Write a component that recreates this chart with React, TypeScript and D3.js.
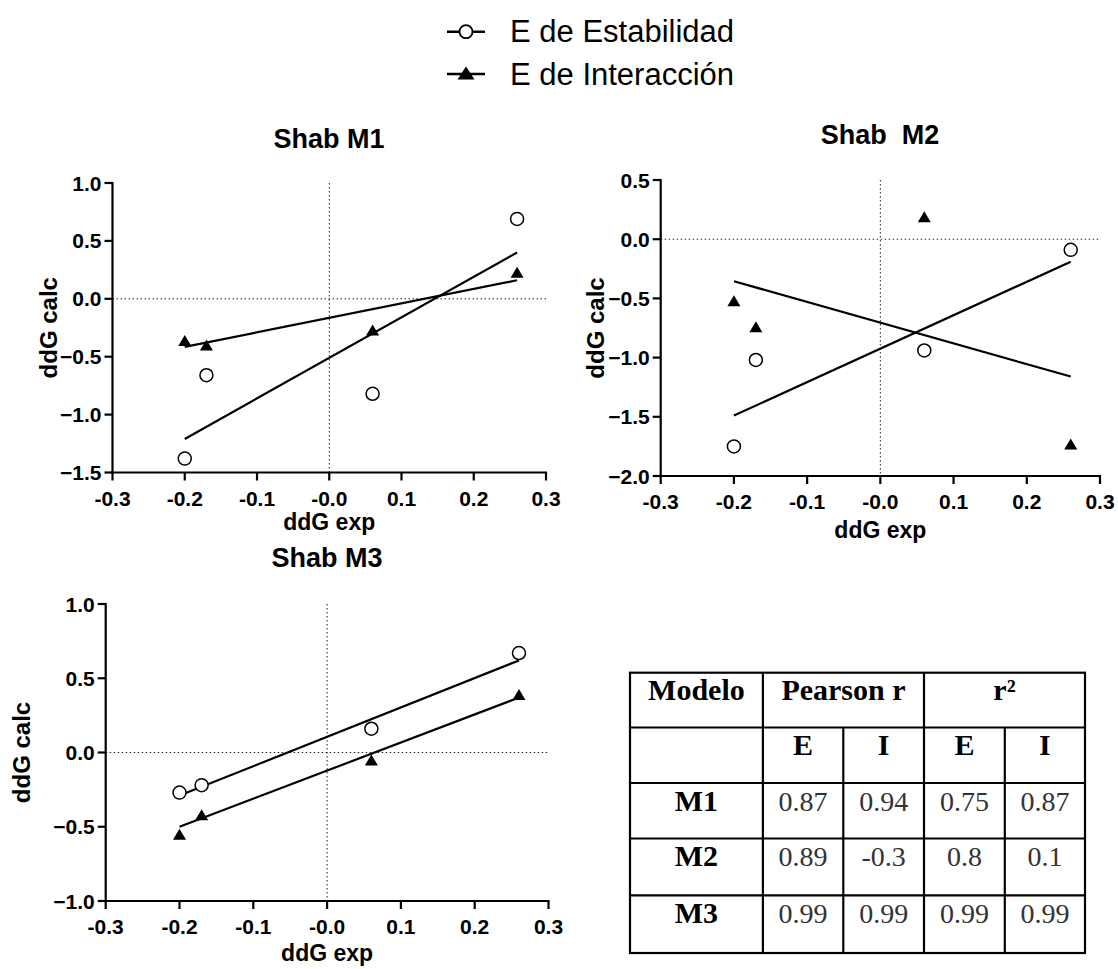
import React from "react";
import * as d3 from "d3";

// ---------- data ----------
const X_VALUES = [-0.2, -0.17, 0.06, 0.26];

const M1_STAB = [-1.38, -0.66, -0.82, 0.69];
const M1_INT = [-0.36, -0.4, -0.27, 0.23];
const M2_STAB = [-1.75, -1.02, -0.94, -0.09];
const M2_INT = [-0.52, -0.74, 0.19, -1.73];
const M3_STAB = [-0.27, -0.22, 0.16, 0.67];
const M3_INT = [-0.55, -0.42, -0.05, 0.39];

// fitted lines (value at x = -0.2 and x = 0.26)
const FIT_X = [-0.2, 0.26];
const M1_STAB_FIT = [-1.21, 0.4];
const M1_INT_FIT = [-0.415, 0.16];
const M2_STAB_FIT = [-1.49, -0.19];
const M2_INT_FIT = [-0.355, -1.16];
const M3_STAB_FIT = [-0.29, 0.62];
const M3_INT_FIT = [-0.5, 0.37];

const X_TICKS = [-0.3, -0.2, -0.1, 0, 0.1, 0.2, 0.3];
const X_TICK_LABELS = ["-0.3", "-0.2", "-0.1", "-0.0", "0.1", "0.2", "0.3"];
const M1_Y_TICKS = [1.0, 0.5, 0.0, -0.5, -1.0, -1.5];
const M2_Y_TICKS = [0.5, 0.0, -0.5, -1.0, -1.5, -2.0];
const M3_Y_TICKS = [1.0, 0.5, 0.0, -0.5, -1.0];

const LEGEND_LABELS = ["E de Estabilidad", "E de Interacción"];
const X_TITLE = "ddG exp";
const Y_TITLE = "ddG calc";

const TABLE_HEAD_1 = ["Modelo", "Pearson r", "r²"];
const TABLE_HEAD_2 = ["", "E", "I", "E", "I"];
const TABLE_MODELS = ["M1", "M2", "M3"];
const PEARSON_E = ["0.87", "0.89", "0.99"];
const PEARSON_I = ["0.94", "-0.3", "0.99"];
const R2_E = ["0.75", "0.8", "0.99"];
const R2_I = ["0.87", "0.1", "0.99"];

// ---------- layout ----------
const SANS = "'Liberation Sans', Arial, Helvetica, sans-serif";
const SERIF = "'Liberation Serif', 'Times New Roman', serif";

const PANELS = [
  {
    title: "Shab M1", stab: M1_STAB, inter: M1_INT, stabFit: M1_STAB_FIT, intFit: M1_INT_FIT,
    yTicks: M1_Y_TICKS, x0: 112.5, x1: 546, yTop: 183, yBot: 472.5,
    titleX: 329, titleY: 148, yTitleX: 57, xTitleY: 530,
  },
  {
    title: "Shab  M2", stab: M2_STAB, inter: M2_INT, stabFit: M2_STAB_FIT, intFit: M2_INT_FIT,
    yTicks: M2_Y_TICKS, x0: 660.7, x1: 1100, yTop: 180, yBot: 476,
    titleX: 880, titleY: 144, yTitleX: 604, xTitleY: 538,
  },
  {
    title: "Shab M3", stab: M3_STAB, inter: M3_INT, stabFit: M3_STAB_FIT, intFit: M3_INT_FIT,
    yTicks: M3_Y_TICKS, x0: 105.7, x1: 548.5, yTop: 604, yBot: 901,
    titleX: 327, titleY: 567, yTitleX: 30, xTitleY: 961,
  },
];

const triPath = (cx: number, cy: number, w: number, h: number) =>
  `M${cx - w / 2},${cy + h / 2}L${cx + w / 2},${cy + h / 2}L${cx},${cy - h / 2}Z`;

function Panel({ p }: { p: (typeof PANELS)[number] }) {
  const yMax = d3.max(p.yTicks) as number;
  const yMin = d3.min(p.yTicks) as number;
  const x = d3.scaleLinear().domain([-0.3, 0.3]).range([p.x0, p.x1]);
  const y = d3.scaleLinear().domain([yMin, yMax]).range([p.yBot, p.yTop]);
  const line = d3
    .line<[number, number]>()
    .x((d) => x(d[0]))
    .y((d) => y(d[1]));
  const cx = (p.x0 + p.x1) / 2;
  const cy = (p.yTop + p.yBot) / 2;
  return (
    <g>
      <text x={p.titleX} y={p.titleY} textAnchor="middle" fontFamily={SANS} fontWeight="bold" fontSize={27} style={{ whiteSpace: "pre" }}>
        {p.title}
      </text>
      {/* dotted zero lines */}
      <line x1={x(0)} x2={x(0)} y1={y(yMax)} y2={y(yMin)} stroke="#222" strokeWidth={1} strokeDasharray="1.5 2.5" />
      <line x1={x(-0.3)} x2={x(0.3)} y1={y(0)} y2={y(0)} stroke="#222" strokeWidth={1} strokeDasharray="1.5 2.5" />
      {/* axes */}
      <line x1={x(-0.3)} x2={x(-0.3)} y1={y(yMax) - 1} y2={y(yMin) + 1} stroke="#000" strokeWidth={2.2} />
      <line x1={x(-0.3) - 1} x2={x(0.3) + 1} y1={y(yMin)} y2={y(yMin)} stroke="#000" strokeWidth={2.2} />
      {p.yTicks.map((t) => (
        <g key={"y" + t}>
          <line x1={x(-0.3) - 8} x2={x(-0.3)} y1={y(t)} y2={y(t)} stroke="#000" strokeWidth={2.2} />
          <text x={x(-0.3) - 11} y={y(t)} dy="0.36em" textAnchor="end" fontFamily={SANS} fontWeight="bold" fontSize={21}>
            {d3.format(".1f")(t)}
          </text>
        </g>
      ))}
      {X_TICKS.map((t, i) => (
        <g key={"x" + i}>
          <line x1={x(t)} x2={x(t)} y1={y(yMin)} y2={y(yMin) + 8} stroke="#000" strokeWidth={2.2} />
          <text x={x(t)} y={y(yMin) + 33} textAnchor="middle" fontFamily={SANS} fontWeight="bold" fontSize={21}>
            {X_TICK_LABELS[i]}
          </text>
        </g>
      ))}
      <text x={cx} y={p.xTitleY} textAnchor="middle" fontFamily={SANS} fontWeight="bold" fontSize={23}>
        {X_TITLE}
      </text>
      <text transform={`translate(${p.yTitleX},${cy}) rotate(-90)`} textAnchor="middle" fontFamily={SANS} fontWeight="bold" fontSize={24}>
        {Y_TITLE}
      </text>
      {/* fit lines */}
      <path d={line(FIT_X.map((v, i) => [v, p.stabFit[i]]) as any) || ""} stroke="#000" strokeWidth={2.2} fill="none" />
      <path d={line(FIT_X.map((v, i) => [v, p.intFit[i]]) as any) || ""} stroke="#000" strokeWidth={2.2} fill="none" />
      {/* points */}
      {X_VALUES.map((v, i) => (
        <circle key={"c" + i} cx={x(v)} cy={y(p.stab[i])} r={6.5} fill="#fff" stroke="#000" strokeWidth={1.5} />
      ))}
      {X_VALUES.map((v, i) => (
        <path key={"t" + i} d={triPath(x(v), y(p.inter[i]), 13, 11)} fill="#000" />
      ))}
    </g>
  );
}

function Legend() {
  const rows = [31.7, 74];
  return (
    <g>
      {LEGEND_LABELS.map((lab, i) => (
        <g key={lab}>
          <line x1={447} x2={485} y1={rows[i]} y2={rows[i]} stroke="#000" strokeWidth={2.5} />
          {i === 0 ? (
            <circle cx={466} cy={rows[i]} r={6.5} fill="#fff" stroke="#000" strokeWidth={1.8} />
          ) : (
            <path d={triPath(466, rows[i] - 1, 17, 13)} fill="#000" />
          )}
          <text x={510} y={rows[i] + 10.5} fontFamily={SANS} fontSize={31} fill="#000">
            {lab}
          </text>
        </g>
      ))}
    </g>
  );
}

function Table() {
  const cols = [630, 762.9, 843.3, 924, 1004.8, 1085];
  const rows = [672.7, 727.5, 783, 838.5, 895.3, 953];
  const mid = (a: number, b: number) => (a + b) / 2;
  const base = (r: number) => rows[r] + 27.5;
  const bodyCols = [PEARSON_E, PEARSON_I, R2_E, R2_I];
  return (
    <g>
      <rect x={cols[0]} y={rows[0]} width={cols[5] - cols[0]} height={rows[5] - rows[0]} fill="#fff" stroke="#000" strokeWidth={2.2} />
      {rows.slice(1, 5).map((r) => (
        <line key={"r" + r} x1={cols[0]} x2={cols[5]} y1={r} y2={r} stroke="#000" strokeWidth={2.2} />
      ))}
      <line x1={cols[1]} x2={cols[1]} y1={rows[0]} y2={rows[5]} stroke="#000" strokeWidth={2.2} />
      <line x1={cols[3]} x2={cols[3]} y1={rows[0]} y2={rows[5]} stroke="#000" strokeWidth={2.2} />
      <line x1={cols[2]} x2={cols[2]} y1={rows[1]} y2={rows[5]} stroke="#000" strokeWidth={2.2} />
      <line x1={cols[4]} x2={cols[4]} y1={rows[1]} y2={rows[5]} stroke="#000" strokeWidth={2.2} />
      {/* header row 1 */}
      <text x={mid(cols[0], cols[1])} y={base(0)} textAnchor="middle" fontFamily={SERIF} fontWeight="bold" fontSize={30}>{TABLE_HEAD_1[0]}</text>
      <text x={mid(cols[1], cols[3])} y={base(0)} textAnchor="middle" fontFamily={SERIF} fontWeight="bold" fontSize={30}>{TABLE_HEAD_1[1]}</text>
      <text x={mid(cols[3], cols[5])} y={base(0)} textAnchor="middle" fontFamily={SERIF} fontWeight="bold" fontSize={30}>{TABLE_HEAD_1[2]}</text>
      {/* header row 2 */}
      {TABLE_HEAD_2.map((h, i) => (
        <text key={"h2" + i} x={mid(cols[i], cols[i + 1])} y={base(1)} textAnchor="middle" fontFamily={SERIF} fontWeight="bold" fontSize={30}>{h}</text>
      ))}
      {TABLE_MODELS.map((m, r) => (
        <g key={m}>
          <text x={mid(cols[0], cols[1])} y={base(r + 2)} textAnchor="middle" fontFamily={SERIF} fontWeight="bold" fontSize={30}>{m}</text>
          {bodyCols.map((col, c) => (
            <text key={c} x={mid(cols[c + 1], cols[c + 2])} y={base(r + 2)} textAnchor="middle" fontFamily={SERIF} fontSize={28} fill="#333">{col[r]}</text>
          ))}
        </g>
      ))}
    </g>
  );
}

export default function App() {
  return (
    <svg width={1118} height={969} style={{ position: "absolute", left: 0, top: 0, background: "#fff" }}>
      <rect width={1118} height={969} fill="#fff" />
      <Legend />
      {PANELS.map((p) => (
        <Panel key={p.title} p={p} />
      ))}
      <Table />
    </svg>
  );
}
